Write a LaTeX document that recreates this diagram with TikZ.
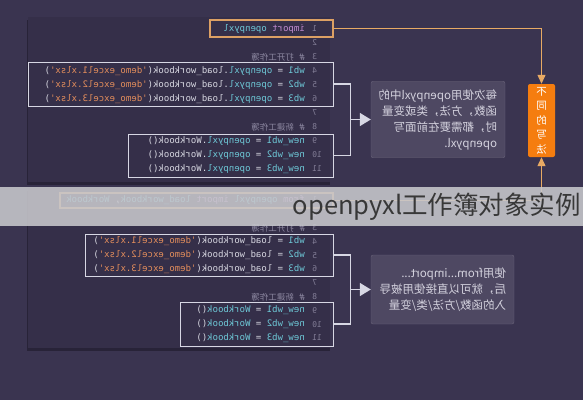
\documentclass[tikz,border=0pt]{standalone}
\usepackage{fontspec}
\setmainfont{DejaVu Sans}
\setmonofont{DejaVu Sans Mono}
\newfontfamily\cjk{Noto Sans CJK SC}
\usetikzlibrary{arrows.meta, positioning}

\definecolor{bgcol}{RGB}{58, 52, 80}
\definecolor{panelcol}{RGB}{53, 47, 73}
\definecolor{panelshadow}{RGB}{40, 35, 56}
\definecolor{codeplain}{RGB}{215, 215, 225}
\definecolor{codevar}{RGB}{110, 200, 215}
\definecolor{codestr}{RGB}{228, 142, 92}
\definecolor{codekw}{RGB}{195, 140, 210}
\definecolor{codecmt}{RGB}{140, 135, 160}
\definecolor{linegray}{RGB}{130, 125, 150}
\definecolor{boxwhite}{RGB}{215, 215, 228}
\definecolor{impline}{RGB}{220, 160, 100}
\definecolor{difforange}{RGB}{245, 125, 15}
\definecolor{orline}{RGB}{232, 170, 100}
\definecolor{notefill}{RGB}{78, 72, 98}
\definecolor{notetext}{RGB}{212, 210, 222}
\definecolor{bannercol}{RGB}{200, 200, 205}

\newcommand{\codekwd}[1]{\textcolor{codekw}{#1}}
\newcommand{\codevr}[1]{\textcolor{codevar}{#1}}
\newcommand{\codestring}[1]{\textcolor{codestr}{#1}}
\newcommand{\codecomment}[1]{\textcolor{codecmt}{\# {\cjk\fontsize{8.5}{10}\selectfont #1}}}

\tikzset{
  codeline/.style={anchor=west, inner sep=0pt, font=\ttfamily\fontsize{9}{11}\selectfont, text=codeplain},
  lnum/.style={anchor=east, inner sep=0pt, font=\ttfamily\fontsize{8}{10}\selectfont, text=linegray},
  codebox/.style={draw=boxwhite, line width=0.9pt, inner sep=0pt},
  impbox/.style={draw=impline, line width=1.2pt, inner sep=0pt},
  notebox/.style={fill=notefill, draw=notefill!85!white, rounded corners=2pt, text=notetext,
    font=\cjk\fontsize{11.5}{16}\selectfont, align=left, inner sep=8pt},
  diffbox/.style={fill=difforange, rounded corners=2pt, text=white, font=\cjk\fontsize{10.5}{14.5}\selectfont,
    align=center, minimum width=27pt, minimum height=73pt, inner sep=0pt},
  bracket/.style={draw=boxwhite, line width=1.1pt},
  bracketarrow/.style={draw=boxwhite, line width=1.6pt, -{Triangle[width=13pt,length=11pt]}},
  orconn/.style={draw=orline, line width=1.1pt, -{Triangle[width=8pt,length=9pt]}}
}

\begin{document}
\begin{tikzpicture}[x=1pt, y=-1pt]
  \fill[bgcol] (0,0) rectangle (583,400);
  \useasboundingbox (0,0) rectangle (583,400);

  % the whole sheet is shown mirrored
  \begin{scope}[xshift=583pt, xscale=-1, transform shape]

  % panels
  \fill[panelshadow] (253,20) rectangle (556,185);
  \fill[panelcol] (253,17) rectangle (555,182);
  \fill[panelshadow] (253,191) rectangle (556,351);
  \fill[panelcol] (253,188) rectangle (555,348);

  % upper code: import openpyxl
  \foreach \n [evaluate=\n as \yy using 29+14*(\n-1)] in {1,...,11}
    \node[lnum] (lnu\n) at (271,\yy) {\n};
  \node[impbox, minimum width=123pt, minimum height=17pt] (imp1) at (311.5,28.5) {};
  \node[codeline] (u1) at (278,29) {\codekwd{import} \codevr{openpyxl}};
  \node[codeline] (u3) at (278,57) {\codecomment{打开工作簿}};
  \node[codebox, minimum width=305pt, minimum height=44pt] (boxa) at (402.5,84) {};
  \node[codeline] (u4) at (278,71) {\codevr{wb1} = \codevr{openpyxl}.load\_workbook(\codestring{'demo\_excel1.xlsx'})};
  \node[codeline] (u5) at (278,85) {\codevr{wb2} = \codevr{openpyxl}.load\_workbook(\codestring{'demo\_excel2.xlsx'})};
  \node[codeline] (u6) at (278,99) {\codevr{wb3} = \codevr{openpyxl}.load\_workbook(\codestring{'demo\_excel3.xlsx'})};
  \node[codeline] (u8) at (278,127) {\codecomment{新建工作簿}};
  \node[codebox, minimum width=205pt, minimum height=43pt] (boxb) at (352.5,155.5) {};
  \node[codeline] (u9) at (278,141) {\codevr{new\_wb1} = \codevr{openpyxl}.Workbook()};
  \node[codeline] (u10) at (278,155) {\codevr{new\_wb2} = \codevr{openpyxl}.Workbook()};
  \node[codeline] (u11) at (278,169) {\codevr{new\_wb3} = \codevr{openpyxl}.Workbook()};

  % lower code: from ... import ...
  \foreach \n [evaluate=\n as \yy using 200+13.8*(\n-1)] in {1,...,11}
    \node[lnum] (lnl\n) at (271,\yy) {\n};
  \node[impbox, minimum width=273pt, minimum height=15pt] (imp2) at (386.5,200.5) {};
  \node[codeline] (l1) at (278,200) {\codekwd{from} \codevr{openpyxl} \codekwd{import} \codevr{load\_workbook}, \codevr{Workbook}};
  \node[codeline] (l3) at (278,228) {\codecomment{打开工作簿}};
  \node[codebox, minimum width=248pt, minimum height=42pt] (boxc) at (374,255) {};
  \node[codeline] (l4) at (278,241) {\codevr{wb1} = load\_workbook(\codestring{'demo\_excel1.xlsx'})};
  \node[codeline] (l5) at (278,255) {\codevr{wb2} = load\_workbook(\codestring{'demo\_excel2.xlsx'})};
  \node[codeline] (l6) at (278,269) {\codevr{wb3} = load\_workbook(\codestring{'demo\_excel3.xlsx'})};
  \node[codeline] (l8) at (278,297) {\codecomment{新建工作簿}};
  \node[codebox, minimum width=153pt, minimum height=44pt] (boxd) at (326.5,324) {};
  \node[codeline] (l9) at (278,310) {\codevr{new\_wb1} = \codevr{Workbook}()};
  \node[codeline] (l10) at (278,324) {\codevr{new\_wb2} = \codevr{Workbook}()};
  \node[codeline] (l11) at (278,338) {\codevr{new\_wb3} = \codevr{Workbook}()};

  % notes
  \node[notebox, text width=118pt, minimum height=73pt] (note1) at (145,119.5) {
    每次使用openpyxl中的\\函数，方法，类或变量\\时，都需要在前面写\\openpyxl.
  };
  \node[notebox, text width=127pt, minimum height=69pt] (note2) at (140.5,289.5) {
    使用from...import...\\后，就可以直接使用被导\\入的函数/方法/类/变量
  };

  % brackets
  \draw[bracket] (boxa.west) -- ++(-17,0) |- (boxb.west);
  \coordinate (brk1) at (233,119.5);
  \draw[bracketarrow] (brk1) -- (note1.east);
  \draw[bracket] (boxc.west) -- ++(-17,0) |- (boxd.west);
  \coordinate (brk2) at (233,289.5);
  \draw[bracketarrow] (brk2) -- (note2.east);

  % different ways
  \node[diffbox] (diff) at (41.5,120.5) {不\\同\\的\\写\\法};
  \draw[orconn] (imp1.west) -| (diff.north);
  \draw[orconn] (imp2.west) -| (diff.south);

  \end{scope}

  % title band
  \fill[bannercol, opacity=0.88] (0,187) rectangle (583,226);
  \node[anchor=east, inner sep=0pt, text=black!78, font=\cjk\fontsize{25.5}{30}\selectfont] (title) at (581,207) {openpyxl工作簿对象实例};
\end{tikzpicture}
\end{document}
